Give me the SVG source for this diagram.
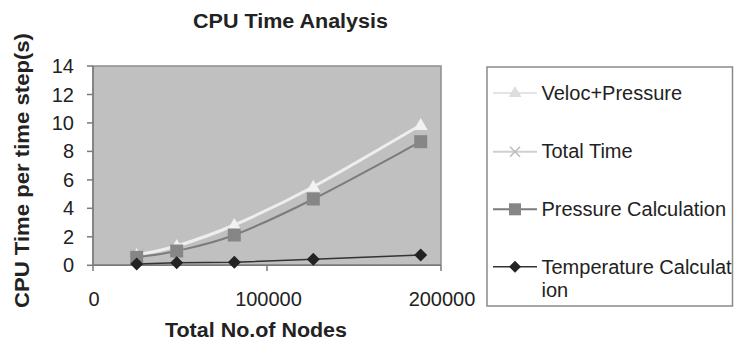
<svg xmlns="http://www.w3.org/2000/svg" width="734" height="341" viewBox="0 0 734 341">
<defs>
<style>
text{font-family:"Liberation Sans",Arial,sans-serif;fill:#222}
.b{font-weight:bold;font-size:20px}
.tick{font-size:20px}
.ytl{font-size:20px;text-anchor:end}
.xtl{font-size:20px;text-anchor:middle}
.leg{font-size:20px}
.ax{stroke:#7a7a7a;stroke-width:1.5;fill:none}
.vel{fill:none;stroke:#eeeeee;stroke-width:3}
.tot{fill:none;stroke:#d6d6d6;stroke-width:2}
.prs{fill:none;stroke:#7c7c7c;stroke-width:2}
.tmp{fill:none;stroke:#333;stroke-width:1.6}
</style>
<symbol id="tri" viewBox="-7 -7 14 14" overflow="visible"><polygon points="0,-7 7,5 -7,5" fill="#f2f2f2"/></symbol>
<symbol id="sq" viewBox="-7 -7 14 14" overflow="visible"><rect x="-6.5" y="-6.5" width="13" height="13" fill="#868686"/></symbol>
<symbol id="dia" viewBox="-7 -7 14 14" overflow="visible"><polygon points="0,-6.5 6.5,0 0,6.5 -6.5,0" fill="#232323"/></symbol>
</defs>
<rect width="734" height="341" fill="#ffffff"/>

<text id="title" class="b" x="290.5" y="28" text-anchor="middle" textLength="195" lengthAdjust="spacingAndGlyphs">CPU Time  Analysis</text>

<g id="plot">
<rect x="93" y="66" width="348" height="199" fill="#c0c0c0" stroke="#8e8e8e" stroke-width="1.5"/>
<g class="ax">
<line x1="93" y1="66" x2="93" y2="265.3"/>
<line x1="93" y1="265.3" x2="441" y2="265.3"/>
<line x1="87" y1="66" x2="93" y2="66"/>
<line x1="87" y1="94.5" x2="93" y2="94.5"/>
<line x1="87" y1="122.9" x2="93" y2="122.9"/>
<line x1="87" y1="151.4" x2="93" y2="151.4"/>
<line x1="87" y1="179.9" x2="93" y2="179.9"/>
<line x1="87" y1="208.3" x2="93" y2="208.3"/>
<line x1="87" y1="236.8" x2="93" y2="236.8"/>
<line x1="87" y1="265.3" x2="93" y2="265.3"/>
<line x1="93" y1="265.3" x2="93" y2="271"/>
<line x1="267" y1="265.3" x2="267" y2="271"/>
<line x1="441" y1="265.3" x2="441" y2="271"/>
</g>
<g id="yticks">
<text class="ytl" x="74" y="73">14</text>
<text class="ytl" x="74" y="101.5">12</text>
<text class="ytl" x="74" y="129.9">10</text>
<text class="ytl" x="74" y="158.4">8</text>
<text class="ytl" x="74" y="186.9">6</text>
<text class="ytl" x="74" y="215.3">4</text>
<text class="ytl" x="74" y="243.8">2</text>
<text class="ytl" x="74" y="272.3">0</text>
</g>
<g id="xticks">
<text class="xtl" x="94" y="306">0</text>
<text class="xtl" x="268.5" y="306">100000</text>
<text class="xtl" x="442" y="306">200000</text>
</g>
<text id="xtitle" class="b" x="256" y="337" text-anchor="middle" textLength="182" lengthAdjust="spacingAndGlyphs">Total No.of Nodes</text>
<text id="ytitle" class="b" transform="translate(29,170.5) rotate(-90)" x="0" y="0" text-anchor="middle" textLength="275" lengthAdjust="spacingAndGlyphs">CPU Time per time step(s)</text>
</g>

<g id="connectors">
<path id="s-total" class="tot" d="M136.7,255 C143.4,253.5 160.4,251 176.7,246 C193,241 211.5,234.9 234.3,225 C257.1,215.1 282.2,203.4 313.3,186.7 C344.4,170 402.8,135.3 420.7,125"/>
<path id="s-veloc" class="vel" d="M136.7,255 C143.4,253.5 160.4,251 176.7,246 C193,241 211.5,234.9 234.3,225 C257.1,215.1 282.2,203.4 313.3,186.7 C344.4,170 402.8,135.3 420.7,125"/>
<path id="s-press" class="prs" d="M136.7,257.3 C143.4,256.25 160.4,254.7 176.7,251 C193,247.3 211.5,243.7 234.3,235 C257.1,226.3 282.2,214.6 313.3,199 C344.4,183.45 402.8,151.25 420.7,141.7"/>
<polyline id="s-temp" class="tmp" points="136.7,264 176.7,262.7 234.3,262.3 313.3,259.3 420.7,255"/>
</g>

<g id="markers-veloc">
<use href="#tri" x="129.7" y="248" width="14" height="14"/>
<use href="#tri" x="169.7" y="239" width="14" height="14"/>
<use href="#tri" x="227.3" y="218" width="14" height="14"/>
<use href="#tri" x="306.3" y="179.7" width="14" height="14"/>
<use href="#tri" x="413.7" y="118" width="14" height="14"/>
</g>
<g id="markers-press">
<use href="#sq" x="129.7" y="250.3" width="14" height="14"/>
<use href="#sq" x="169.7" y="244" width="14" height="14"/>
<use href="#sq" x="227.3" y="228" width="14" height="14"/>
<use href="#sq" x="306.3" y="192" width="14" height="14"/>
<use href="#sq" x="413.7" y="134.7" width="14" height="14"/>
</g>
<g id="markers-temp">
<use href="#dia" x="129.7" y="257" width="14" height="14"/>
<use href="#dia" x="169.7" y="255.7" width="14" height="14"/>
<use href="#dia" x="227.3" y="255.3" width="14" height="14"/>
<use href="#dia" x="306.3" y="252.3" width="14" height="14"/>
<use href="#dia" x="413.7" y="248" width="14" height="14"/>
</g>

<g id="legend">
<rect x="487" y="67" width="245.5" height="239" fill="#ffffff" stroke="#8a8a8a" stroke-width="1.5"/>
<g id="leg-veloc">
<line x1="493" y1="93" x2="537" y2="93" stroke="#e4e4e4" stroke-width="2"/>
<polygon points="515,86 521.5,97 508.5,97" fill="#dedede"/>
<text class="leg" x="541.5" y="100">Veloc+Pressure</text>
</g>
<g id="leg-total">
<line x1="493" y1="151.7" x2="537" y2="151.7" stroke="#cfcfcf" stroke-width="2"/>
<path d="M510,146.7 L520,156.7 M520,146.7 L510,156.7" stroke="#bdbdbd" stroke-width="1.6"/>
<text class="leg" x="541.5" y="157.5">Total Time</text>
</g>
<g id="leg-press">
<line x1="493" y1="209.3" x2="537" y2="209.3" stroke="#7c7c7c" stroke-width="2"/>
<rect x="509" y="203.3" width="12" height="12" fill="#868686"/>
<text class="leg" x="541.5" y="215.5">Pressure Calculation</text>
</g>
<g id="leg-temp">
<line x1="493" y1="266.7" x2="537" y2="266.7" stroke="#333" stroke-width="1.6"/>
<polygon points="515,260.7 521,266.7 515,272.7 509,266.7" fill="#232323"/>
<text class="leg" x="541.5" y="274">Temperature Calculat</text>
<text class="leg" x="541.5" y="296.5">ion</text>
</g>
</g>
</svg>
